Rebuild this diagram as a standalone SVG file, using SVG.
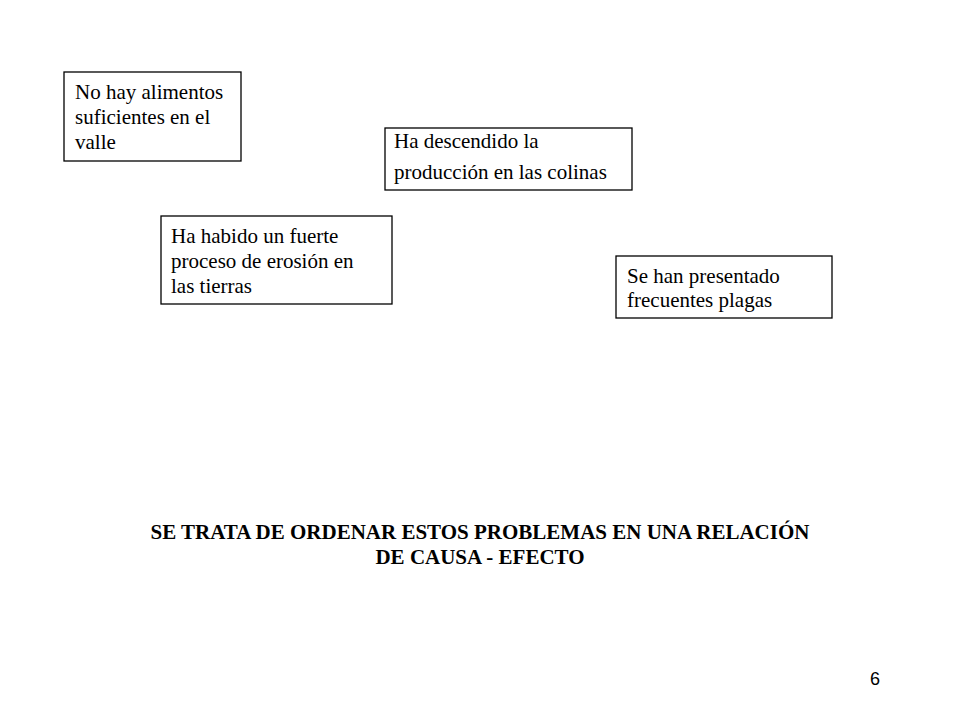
<svg xmlns="http://www.w3.org/2000/svg" width="960" height="720" viewBox="0 0 960 720">
<style>
.box{fill:#fff;stroke:#000;stroke-width:1.3}
.t{font-family:"Liberation Serif","Times New Roman",serif;font-size:21px;fill:#000}
.title{font-family:"Liberation Serif","Times New Roman",serif;font-size:21px;font-weight:bold;fill:#000;text-anchor:middle}
.num{font-family:"Liberation Sans",Arial,sans-serif;font-size:18px;fill:#000;text-anchor:middle}
</style>
<rect width="960" height="720" fill="#fff"/>
<g id="connectors"></g>
<g id="n1">
<rect class="box" x="64" y="72" width="177" height="89"/>
<text class="t" x="75" y="99">No hay alimentos</text>
<text class="t" x="75" y="124">suficientes en el</text>
<text class="t" x="75" y="149">valle</text>
</g>
<g id="n2">
<rect class="box" x="385" y="128" width="247" height="62"/>
<text class="t" x="394" y="148">Ha descendido la</text>
<text class="t" x="394" y="179">producción en las colinas</text>
</g>
<g id="n3">
<rect class="box" x="161" y="216" width="231" height="88"/>
<text class="t" x="171" y="243">Ha habido un fuerte</text>
<text class="t" x="171" y="268">proceso de erosión en</text>
<text class="t" x="171" y="293">las tierras</text>
</g>
<g id="n4">
<rect class="box" x="616" y="256" width="216" height="62"/>
<text class="t" x="627" y="283">Se han presentado</text>
<text class="t" x="627" y="307">frecuentes plagas</text>
</g>
<g id="title">
<text class="title" x="480" y="539">SE TRATA DE ORDENAR ESTOS PROBLEMAS EN UNA RELACIÓN</text>
<text class="title" x="480" y="564">DE CAUSA - EFECTO</text>
</g>
<text class="num" x="875" y="685">6</text>
</svg>
